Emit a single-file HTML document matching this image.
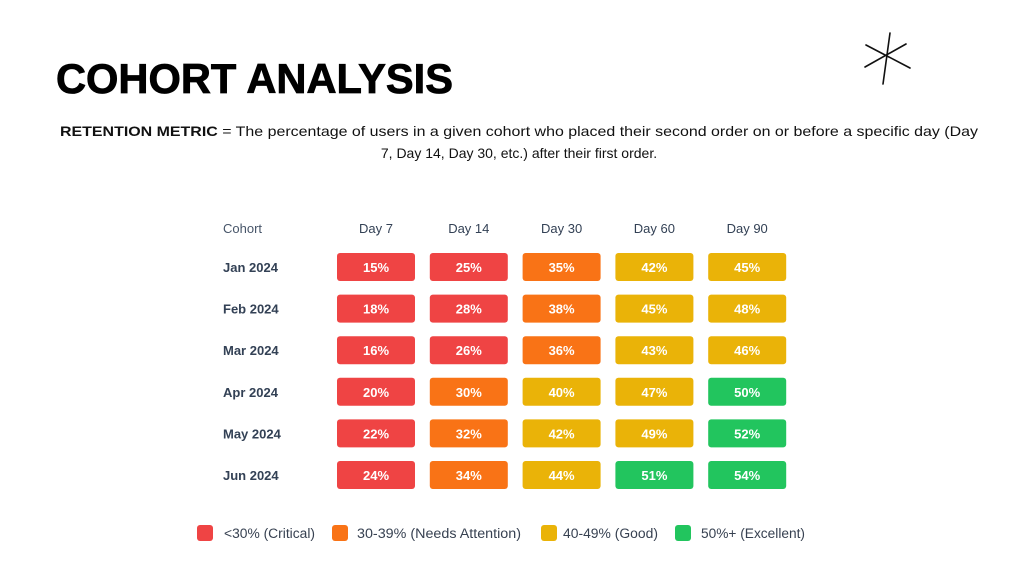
<!DOCTYPE html>
<html><head><meta charset="utf-8"><style>
body{margin:0;width:1024px;height:576px;background:#fff;overflow:hidden}
svg{display:block}
text{font-family:"Liberation Sans",sans-serif}
</style></head><body>
<svg id="chart" width="1024" height="576">
<text x="56" y="93" font-size="42" font-weight="bold" fill="#000" stroke="#000" stroke-width="0.8" textLength="397" lengthAdjust="spacingAndGlyphs">COHORT ANALYSIS</text>
<text x="519" y="136" font-size="14" text-anchor="middle" fill="#111" textLength="918" lengthAdjust="spacingAndGlyphs"><tspan font-weight="bold">RETENTION METRIC</tspan> = The percentage of users in a given cohort who placed their second order on or before a specific day (Day</text>
<text x="519" y="158" font-size="14" text-anchor="middle" fill="#111">7, Day 14, Day 30, etc.) after their first order.</text>
<g stroke="#111" stroke-width="1.6" stroke-linecap="round">
<line x1="890" y1="33" x2="883" y2="84"/><line x1="866" y1="45" x2="910" y2="68"/><line x1="865" y1="67" x2="906" y2="44"/>
</g>
<g id="grid"></g>
<g id="legend"></g>
</svg>
<script>
const cohorts=["Jan 2024","Feb 2024","Mar 2024","Apr 2024","May 2024","Jun 2024"];
const days=["Day 7","Day 14","Day 30","Day 60","Day 90"];
const day7=[15,18,16,20,22,24];
const day14=[25,28,26,30,32,34];
const day30=[35,38,36,40,42,44];
const day60=[42,45,43,47,49,51];
const day90=[45,48,46,50,52,54];
const series=[day7,day14,day30,day60,day90];
const legendLabels=["<30% (Critical)","30-39% (Needs Attention)","40-49% (Good)","50%+ (Excellent)"];
const colors=["#ef4444","#f97316","#eab308","#22c55e"];
const NS="http://www.w3.org/2000/svg";
function colX(i){return 376+i*92.8;}
function rowY(j){return 267+j*41.6;}
function colorFor(v){return v<30?colors[0]:v<40?colors[1]:v<50?colors[2]:colors[3];}
function mk(tag,attrs,txt){const e=document.createElementNS(NS,tag);for(const k in attrs)e.setAttribute(k,attrs[k]);if(txt!=null)e.textContent=txt;return e;}
const g=document.getElementById('grid');
let h=mk('text',{x:223,y:233,'font-size':13,fill:'#475569'},'Cohort');


g.appendChild(h);
days.forEach((d,i)=>{const t=mk('text',{x:colX(i),y:233,'font-size':13,fill:'#334155','text-anchor':'middle'},d);


g.appendChild(t);});
cohorts.forEach((c,j)=>{const t=mk('text',{x:223,y:rowY(j)+5,'font-size':13,'font-weight':'bold',fill:'#334155'},c);


g.appendChild(t);
series.forEach((s,i)=>{const v=s[j];
const r=mk('rect',{x:colX(i)-39,y:rowY(j)-14,width:78,height:28,rx:3,fill:colorFor(v)});


g.appendChild(r);
const t2=mk('text',{x:colX(i),y:rowY(j)+5,'font-size':13,'font-weight':'bold',fill:'#fff','text-anchor':'middle'},v+'%');


g.appendChild(t2);});});
const lg=document.getElementById('legend');
const lx=[197,332,541,675];
const tx=[224,357,563,701];
const lw=[91,164,95,104];
legendLabels.forEach((l,i)=>{const r=mk('rect',{x:lx[i],y:525,width:16,height:16,rx:3,fill:colors[i]});


lg.appendChild(r);
const t=mk('text',{x:tx[i],y:538,'font-size':13.5,fill:'#374151',textLength:lw[i],lengthAdjust:'spacingAndGlyphs'},l);


lg.appendChild(t);});
</script>
</body></html>
